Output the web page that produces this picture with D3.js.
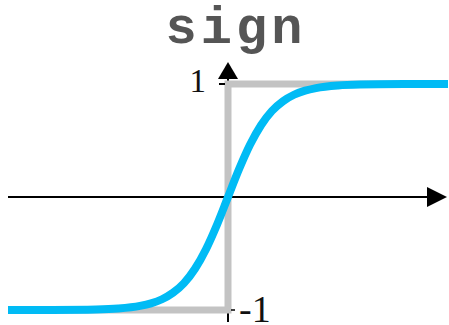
<!DOCTYPE html>
<html>
<head>
<meta charset="utf-8">
<script src="https://cdn.jsdelivr.net/npm/d3@7"></script>
<style>
  html, body { margin: 0; padding: 0; background: #fff; }
  svg { display: block; }
</style>
</head>
<body>
<div id="chart"></div>
<script>
// ---- data ----
const title = "sign";
const tickValues = [-1, 1];
const tickLabels = ["-1", "1"];
// sign function (grey step)
const signX = [-5, 0, 0, 5];
const signY = [-1, -1, 1, 1];
// smooth approximation (blue curve)
const curveX = [-5, -4, -3, -2.5, -2, -1.75, -1.5, -1.25, -1, -0.75, -0.5, -0.25, 0,
                0.25, 0.5, 0.75, 1, 1.25, 1.5, 1.75, 2, 2.5, 3, 4, 5];
const curveY = [-1.0, -0.999, -0.995, -0.987, -0.964, -0.941, -0.905, -0.848, -0.762, -0.635, -0.462, -0.245, 0,
                0.245, 0.462, 0.635, 0.762, 0.848, 0.905, 0.941, 0.964, 0.987, 0.995, 0.999, 1.0];

const W = 449, H = 325;
const svg = d3.select("#chart").append("svg").attr("width", W).attr("height", H);

const x = d3.scaleLinear().domain([-5, 5]).range([8, 448]);
const y = d3.scaleLinear().domain([-1, 1]).range([310, 84]);

// axes (black, with arrows)
const axisColor = "#000";
svg.append("line")
  .attr("x1", x(-5)).attr("x2", 430).attr("y1", y(0)).attr("y2", y(0))
  .attr("stroke", axisColor).attr("stroke-width", 2);
svg.append("path")
  .attr("d", `M${W - 2},${y(0)} L427,${y(0) - 10} L427,${y(0) + 10} Z`)
  .attr("fill", axisColor);
svg.append("line")
  .attr("x1", x(0)).attr("x2", x(0)).attr("y1", 78).attr("y2", 322)
  .attr("stroke", axisColor).attr("stroke-width", 2);
svg.append("path")
  .attr("d", `M${x(0)},62 L${x(0) - 10},79 L${x(0) + 10},79 Z`)
  .attr("fill", axisColor);

// grey step (sign)
const lineGen = d3.line().x(d => x(d[0])).y(d => y(d[1]));
svg.append("path")
  .datum(signX.map((v, i) => [v, signY[i]]))
  .attr("d", lineGen)
  .attr("fill", "none")
  .attr("stroke", "#c3c3c3")
  .attr("stroke-width", 7)
  .attr("stroke-linejoin", "miter");

// ticks
svg.append("line")
  .attr("x1", x(0) - 9).attr("x2", x(0) - 3).attr("y1", y(1)).attr("y2", y(1))
  .attr("stroke", axisColor).attr("stroke-width", 2);
svg.append("line")
  .attr("x1", x(0) + 3).attr("x2", x(0) + 7).attr("y1", y(-1)).attr("y2", y(-1))
  .attr("stroke", axisColor).attr("stroke-width", 1.5);

// blue curve
const smooth = d3.line().x(d => x(d[0])).y(d => y(d[1])).curve(d3.curveMonotoneX);
svg.append("path")
  .datum(curveX.map((v, i) => [v, curveY[i]]))
  .attr("d", smooth)
  .attr("fill", "none")
  .attr("stroke", "#00bbf5")
  .attr("stroke-width", 8)
  .attr("stroke-linecap", "butt");

// tick labels
svg.append("text")
  .attr("x", 206).attr("y", 92)
  .attr("text-anchor", "end")
  .attr("font-family", "'Liberation Serif', 'Times New Roman', serif")
  .attr("font-size", 33)
  .attr("fill", "#111")
  .text(tickLabels[1]);
svg.append("text")
  .attr("x", 239).attr("y", 322)
  .attr("text-anchor", "start")
  .attr("font-family", "'Liberation Serif', 'Times New Roman', serif")
  .attr("font-size", 38)
  .attr("fill", "#111")
  .text(tickLabels[0]);

// title
svg.append("text")
  .attr("x", 236).attr("y", 43)
  .attr("text-anchor", "middle")
  .attr("font-family", "'Liberation Mono', 'Courier New', monospace")
  .attr("font-weight", "bold")
  .attr("font-size", 52)
  .attr("letter-spacing", 4)
  .attr("fill", "#555")
  .text(title);
</script>
</body>
</html>
